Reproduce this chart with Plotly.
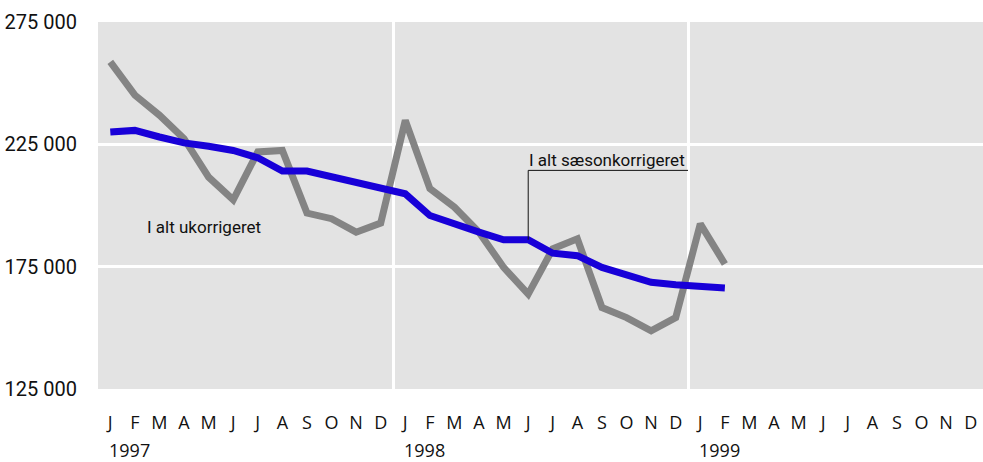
import plotly.graph_objects as go

months = ["J", "F", "M", "A", "M", "J", "J", "A", "S", "O", "N", "D"] * 3
years = ["1997", "1998", "1999"]

ukorrigeret = [258700, 245100, 236900, 227300, 211600, 202300, 221900, 222500,
               196900, 194600, 189100, 192800,
               234800, 206900, 199300, 189100, 174700, 163800, 182300, 186400,
               158300, 154200, 148800, 154200,
               192500, 176100]
saesonkorrigeret = [230000, 230700, 228000, 225600, 224200, 222500, 219500, 214100,
                    214100, 211900, 209600, 207100,
                    204800, 195900, 192200, 189100, 186000, 186000, 180500, 179500,
                    174700, 171300, 168600, 167600,
                    166800, 166300]
y_ticks = [125000, 175000, 225000, 275000]

FONT = "Liberation Sans Narrow, Roboto, sans-serif"
MFONT = "Open Sans, Noto Sans, sans-serif"

xi = list(range(len(months)))
fig = go.Figure()
fig.add_trace(go.Scatter(x=xi[:len(ukorrigeret)], y=ukorrigeret, mode="lines",
                         line=dict(color="#848484", width=7), showlegend=False))
fig.add_trace(go.Scatter(x=xi[:len(saesonkorrigeret)], y=saesonkorrigeret, mode="lines",
                         line=dict(color="#1800d8", width=7), showlegend=False))
# invisible trace on xaxis2 to activate year-boundary grid
fig.add_trace(go.Scatter(x=[xi[0]], y=[y_ticks[0]], xaxis="x2", mode="markers",
                         marker=dict(opacity=0), showlegend=False, hoverinfo="skip"))

rng = [-0.5, len(months) - 0.5]
boundaries = [12 * k - 0.5 for k in range(1, len(years))]

fig.update_layout(
    width=983, height=462,
    margin=dict(l=98, r=0, t=22, b=73),
    paper_bgcolor="white",
    plot_bgcolor="#e3e3e3",
    separators=", ",
    xaxis=dict(range=rng, tickvals=xi, ticktext=months, showgrid=False, zeroline=False,
               showline=False, ticks="", automargin=False, ticklabeloverflow="allow",
               tickfont=dict(family=MFONT, size=18, color="#111"),
               ticklabelstandoff=21),
    xaxis2=dict(range=rng, overlaying="x", tickvals=boundaries, showgrid=True,
                gridcolor="white", gridwidth=2.5, showticklabels=False, zeroline=False,
                ticks="", automargin=False),
    yaxis=dict(range=[y_ticks[0], y_ticks[-1]], tickvals=y_ticks, tickformat=",d",
               showgrid=True, gridcolor="white", gridwidth=2.5, zeroline=False,
               ticks="", ticklabelstandoff=20, automargin=False,
               tickfont=dict(family=FONT, size=20, color="#111")),
)

# year labels below January ticks
for k, yr in enumerate(years):
    fig.add_annotation(x=12 * k, y=0, xref="x", yref="paper", text=yr,
                       showarrow=False, xanchor="left", yanchor="middle",
                       xshift=-3, yshift=-61,
                       font=dict(family=MFONT, size=18, color="#111"))

# label for unadjusted series
fig.add_annotation(x=1.4, y=191400, text="I alt ukorrigeret", showarrow=False,
                   xanchor="left", yanchor="middle",
                   font=dict(family=FONT, size=17, color="#111"))

# leader line and label for seasonally adjusted series
lead_i = 17
lead_top = 214350
fig.add_shape(type="path",
              path=f"M {lead_i} {saesonkorrigeret[lead_i]} L {lead_i} {lead_top} L {boundaries[1]} {lead_top}",
              line=dict(color="#111", width=1))
fig.add_annotation(x=lead_i, y=lead_top, text="I alt sæsonkorrigeret", showarrow=False,
                   xanchor="left", yanchor="bottom", xshift=-1, yshift=-2,
                   font=dict(family=FONT, size=17, color="#111"))

fig.write_html("out.html", config={"displayModeBar": False},
               post_script="document.body.style.margin='0';document.body.style.overflow='hidden';")
